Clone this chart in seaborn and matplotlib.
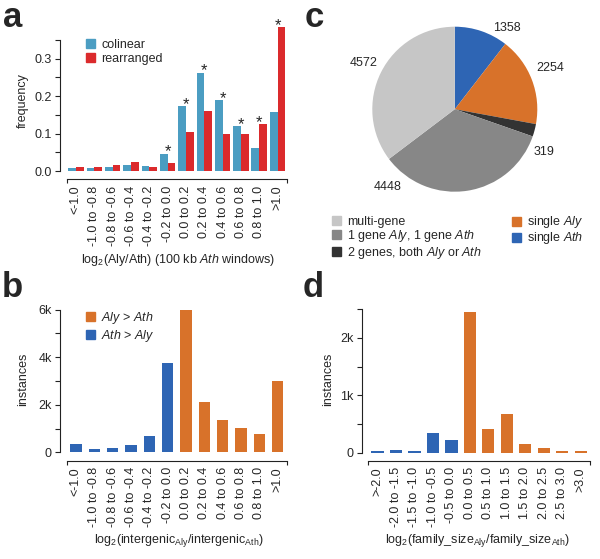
import numpy as np
import pandas as pd
import seaborn as sns
import matplotlib.pyplot as plt
from matplotlib.patches import Patch

# ---- panel a : log2(Aly/Ath) in 100 kb windows
bins_a = ['<-1.0', '-1.0 to -0.8', '-0.8 to -0.6', '-0.6 to -0.4', '-0.4 to -0.2',
          '-0.2 to 0.0', '0.0 to 0.2', '0.2 to 0.4', '0.4 to 0.6', '0.6 to 0.8',
          '0.8 to 1.0', '>1.0']
colinear = [0.008, 0.007, 0.011, 0.015, 0.013, 0.046, 0.173, 0.263, 0.190, 0.120, 0.061, 0.157]
rearranged = [0.012, 0.012, 0.017, 0.024, 0.012, 0.022, 0.103, 0.160, 0.098, 0.098, 0.126, 0.385]
star_bins = ['-0.2 to 0.0', '0.0 to 0.2', '0.2 to 0.4', '0.4 to 0.6', '0.6 to 0.8',
             '0.8 to 1.0', '>1.0']

# ---- panel b : intergenic ratio
bins_b = bins_a
intergenic = [335, 130, 195, 310, 675, 3735, 6000, 2100, 1350, 1010, 770, 3010]

# ---- panel c : pie (clockwise from top)
pie_names = ['single Ath', 'single Aly', '2 genes, both Aly or Ath',
             '1 gene Aly, 1 gene Ath', 'multi-gene']
pie_counts = [1358, 2254, 319, 4448, 4572]

# ---- panel d : family size ratio
bins_d = ['>-2.0', '-2.0 to -1.5', '-1.5 to -1.0', '-1.0 to -0.5', '-0.5 to 0.0',
          '0.0 to 0.5', '0.5 to 1.0', '1.0 to 1.5', '1.5 to 2.0', '2.0 to 2.5',
          '2.5 to 3.0', '>3.0']
family = [22, 53, 25, 351, 217, 2445, 416, 673, 152, 82, 25, 22]

BLUE_A = '#4b9dc2'
RED_A = '#db2a2c'
BLUE = '#2e65b4'
ORANGE = '#d8722a'
GREYS = ['#c6c6c6', '#878787', '#333333']
INK = '#222222'

sns.set_theme(style='white')
plt.rcParams['font.family'] = ['Liberation Sans', 'DejaVu Sans']
plt.rcParams['mathtext.fontset'] = 'custom'
plt.rcParams['mathtext.rm'] = 'Liberation Sans'
plt.rcParams['mathtext.it'] = 'Liberation Sans:italic'
plt.rcParams['mathtext.bf'] = 'Liberation Sans:bold'

W, H = 600, 559
FS = 9
fig = plt.figure(figsize=(6, 5.59), dpi=100)


def px_axes(x0, y_top, x1, y_bottom):
    return fig.add_axes([x0 / W, 1 - y_bottom / H, (x1 - x0) / W, (y_bottom - y_top) / H])


def ftext(x, y, s, **kw):
    fig.text(x / W, 1 - y / H, s, **kw)


def style_bars(ax, ymax, top, majors, major_labels, minors, cats):
    ax.set_xlim(-0.5, len(cats) - 0.5)
    ax.set_ylim(0, ymax)
    ax.spines['top'].set_visible(False)
    ax.spines['right'].set_visible(False)
    for s in ['left', 'bottom']:
        ax.spines[s].set_color(INK)
        ax.spines[s].set_linewidth(0.8)
    ax.spines['left'].set_position(('outward', 4.5))
    ax.spines['bottom'].set_position(('outward', 6))
    ax.spines['left'].set_bounds(0, top)
    ax.set_yticks(majors)
    ax.set_yticklabels(major_labels, fontsize=FS)
    ax.set_yticks(minors, minor=True)
    ax.tick_params(axis='y', which='both', left=True, length=3.6, width=0.8,
                   color=INK, pad=2.5, direction='out')
    ax.set_xticks(range(len(cats)))
    ax.set_xticklabels(cats, rotation=90, fontsize=FS, va='top', ha='center')
    ax.set_xticks([-0.5, len(cats) - 0.5], minor=True)
    ax.tick_params(axis='x', which='major', length=0, pad=4.5)
    ax.tick_params(axis='x', which='minor', bottom=True, length=3, width=0.8,
                   color=INK, direction='out')
    ax.set_xlabel('')
    ax.set_ylabel('')


# ---------------- a
ax_a = px_axes(66.7, 21, 286.7, 171)
df_a = pd.DataFrame({'bin': bins_a * 2,
                     'freq': colinear + rearranged,
                     'type': ['colinear'] * len(bins_a) + ['rearranged'] * len(bins_a)})
sns.barplot(data=df_a, x='bin', y='freq', hue='type', order=bins_a,
            hue_order=['colinear', 'rearranged'], palette=[BLUE_A, RED_A],
            saturation=1, width=0.84, linewidth=0, legend=False, ax=ax_a)
style_bars(ax_a, 0.401, 0.35, [0, 0.1, 0.2, 0.3], ['0.0', '0.1', '0.2', '0.3'],
           [0.05, 0.15, 0.25, 0.35], bins_a)
for b in star_bins:
    i = bins_a.index(b)
    ax_a.annotate('*', (i, max(colinear[i], rearranged[i])), xytext=(0, -2),
                  textcoords='offset points', ha='center', va='baseline', fontsize=12)
ax_a.legend(handles=[Patch(color=BLUE_A, label='colinear'),
                     Patch(color=RED_A, label='rearranged')],
            loc='upper left', bbox_to_anchor=(86 / W, 1 - 38.5 / H),
            bbox_transform=fig.transFigure, frameon=False, fontsize=FS,
            handlelength=0.75, handleheight=0.75, handletextpad=0.45,
            labelspacing=0.2, borderpad=0, borderaxespad=0)
ftext(23, 101, 'frequency', rotation=90, ha='center', va='center', fontsize=FS)
ftext(178, 263, r'log$_2$(Aly/Ath) (100 kb $\it{Ath}$ windows)', ha='center',
      va='baseline', fontsize=FS)

# ---------------- b
ax_b = px_axes(66.7, 300, 286.7, 452.3)
grp_b = ['Ath > Aly' if i < 6 else 'Aly > Ath' for i in range(len(bins_b))]
sns.barplot(x=bins_b, y=intergenic, hue=grp_b, order=bins_b, dodge=False,
            hue_order=['Aly > Ath', 'Ath > Aly'], palette=[ORANGE, BLUE],
            saturation=1, width=0.62, linewidth=0, legend=False, ax=ax_b)
style_bars(ax_b, 6400, 6000, [0, 2000, 4000, 6000], ['0', '2k', '4k', '6k'],
           [1000, 3000, 5000], bins_b)
ax_b.legend(handles=[Patch(color=ORANGE, label=r'$\it{Aly}$ > $\it{Ath}$'),
                     Patch(color=BLUE, label=r'$\it{Ath}$ > $\it{Aly}$')],
            loc='upper left', bbox_to_anchor=(86 / W, 1 - 310 / H),
            bbox_transform=fig.transFigure, frameon=False, fontsize=FS,
            handlelength=0.75, handleheight=0.75, handletextpad=0.45,
            labelspacing=0.15, borderpad=0, borderaxespad=0)
ftext(23, 379, 'instances', rotation=90, ha='center', va='center', fontsize=FS)
ftext(179, 543, r'log$_2$(intergenic$_{\rm Aly}$/intergenic$_{\rm Ath}$)', ha='center',
      va='baseline', fontsize=FS)

# ---------------- c
r_px = 82.5
cx, cy = 454.8, 109.2
ax_c = px_axes(cx - 1.25 * r_px, cy - 1.25 * r_px, cx + 1.25 * r_px, cy + 1.25 * r_px)
ax_c.pie(pie_counts, colors=[BLUE, ORANGE, GREYS[2], GREYS[1], GREYS[0]],
         startangle=90, counterclock=False, wedgeprops=dict(linewidth=0))
ax_c.set_xlim(-1.25, 1.25)
ax_c.set_ylim(-1.25, 1.25)
label_xy = [(0.63, 0.98), (1.16, 0.50), (1.08, -0.52), (-0.82, -0.94), (-1.11, 0.56)]
for n, (lx, ly) in zip(pie_counts, label_xy):
    ax_c.text(lx, ly, str(n), ha='center', va='center', fontsize=FS)

leg_c1 = fig.legend(handles=[Patch(color=GREYS[0], label='multi-gene'),
                             Patch(color=GREYS[1], label=r'1 gene $\it{Aly}$, 1 gene $\it{Ath}$'),
                             Patch(color=GREYS[2], label=r'2 genes, both $\it{Aly}$ or $\it{Ath}$')],
                    loc='upper left', bbox_to_anchor=(332 / W, 1 - 215.5 / H),
                    frameon=False, fontsize=FS, handlelength=0.75, handleheight=0.75,
                    handletextpad=0.45, labelspacing=0.05, borderpad=0, borderaxespad=0)
leg_c2 = fig.legend(handles=[Patch(color=ORANGE, label=r'single $\it{Aly}$'),
                             Patch(color=BLUE, label=r'single $\it{Ath}$')],
                    loc='upper left', bbox_to_anchor=(512 / W, 1 - 214.5 / H),
                    frameon=False, fontsize=FS, handlelength=0.75, handleheight=0.75,
                    handletextpad=0.45, labelspacing=0.0, borderpad=0, borderaxespad=0)

# ---------------- d
ax_d = px_axes(368.3, 300, 590, 452.7)
grp_d = ['neg' if i < 5 else 'pos' for i in range(len(bins_d))]
sns.barplot(x=bins_d, y=family, hue=grp_d, order=bins_d, dodge=False,
            hue_order=['pos', 'neg'], palette=[ORANGE, BLUE],
            saturation=1, width=0.66, linewidth=0, legend=False, ax=ax_d)
style_bars(ax_d, 2660, 2500, [0, 1000, 2000], ['0', '1k', '2k'],
           [500, 1500, 2500], bins_d)
ftext(328, 379, 'instances', rotation=90, ha='center', va='center', fontsize=FS)
ftext(477, 543, r'log$_2$(family_size$_{\rm Aly}$/family_size$_{\rm Ath}$)', ha='center',
      va='baseline', fontsize=FS)

# ---------------- panel letters
for x, y, s in [(3, 27, 'a'), (2, 297, 'b'), (305, 27, 'c'), (303, 297, 'd')]:
    ftext(x, y, s, fontsize=25, fontweight='bold', ha='left', va='baseline')

fig.savefig('out.png', dpi=100)
